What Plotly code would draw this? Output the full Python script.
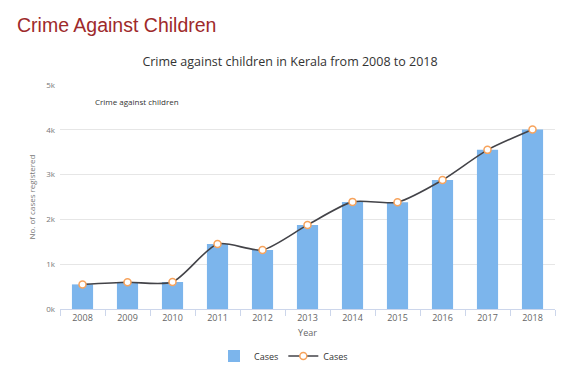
import plotly.graph_objects as go

years = [2008, 2009, 2010, 2011, 2012, 2013, 2014, 2015, 2016, 2017, 2018]
cases = [549, 596, 603, 1452, 1318, 1877, 2391, 2384, 2879, 3552, 4008]
y_ticks = [0, 1000, 2000, 3000, 4000, 5000]
y_tick_labels = ["0k", "1k", "2k", "3k", "4k", "5k"]

FONT = "Open Sans, DejaVu Sans, sans-serif"
L, R, T, B = 60, 12, 85, 71
W, H = 567, 380
PW, PH = W - L - R, H - T - B

fig = go.Figure()
fig.add_trace(go.Bar(
    x=years, y=cases, name="Cases", width=0.47,
    marker=dict(color="#7cb5ec", line=dict(width=0)),
))
fig.add_trace(go.Scatter(
    x=years, y=cases, name="Cases", mode="lines+markers",
    line=dict(color="#434348", width=1.6, shape="spline", smoothing=0.7),
    marker=dict(size=7, color="#ffffff", line=dict(color="#f7a35c", width=1.5)),
))

fig.update_layout(
    width=W, height=H,
    margin=dict(l=L, r=R, t=T, b=B, autoexpand=False),
    paper_bgcolor="white", plot_bgcolor="white",
    font=dict(family=FONT, color="#666666", size=9),
    showlegend=True,
    legend=dict(orientation="h", x=0.5, xanchor="center", xref="container",
                y=24/380, yref="container", yanchor="middle",
                font=dict(size=9, color="#333333"), itemwidth=30,
                tracegroupgap=0),
    xaxis=dict(
        range=[2007.5, 2018.5], tickmode="array", tickvals=years,
        ticktext=[str(y) for y in years], ticks="", showgrid=False,
        showline=True, linecolor="#ccd6eb", linewidth=1, automargin=False,
        tickfont=dict(size=9, color="#666666"),
        minor=dict(tickmode="linear", tick0=2007.5, dtick=1, ticks="outside",
                   ticklen=6, tickcolor="#ccd6eb", showgrid=False),
        title=dict(text="Year", font=dict(size=9, color="#666666"), standoff=6),
        zeroline=False,
    ),
    yaxis=dict(
        range=[0, 5000], tickmode="array", tickvals=y_ticks, ticktext=y_tick_labels,
        showgrid=True, gridcolor="#e6e6e6", gridwidth=1, zeroline=False,
        automargin=False,
        tickfont=dict(size=8, color="#777777"), ticks="", ticklabelstandoff=4,
        title=dict(text="No. of cases registered", font=dict(size=8, color="#777777"), standoff=9),
    ),
    title=dict(
        text="Crime against children in Kerala from 2008 to 2018",
        x=290/567, xanchor="center", xref="container",
        y=1 - 62/380, yanchor="middle", yref="container",
        font=dict(family=FONT, size=12.5, color="#333333"),
    ),
)

fig.add_annotation(text="Crime Against Children", xref="paper", yref="paper",
                   x=(15 - L)/PW, y=(H - 25 - B)/PH, xanchor="left", yanchor="middle",
                   showarrow=False,
                   font=dict(family="Liberation Sans, Arial, sans-serif", size=19.5, color="#9e2a2b"))
fig.add_annotation(text="Crime against children", xref="paper", yref="paper",
                   x=(93 - L)/PW, y=(H - 101 - B)/PH, xanchor="left", yanchor="middle",
                   showarrow=False, font=dict(size=8, color="#333333"))

fig.write_html("out.html", config={"displayModeBar": False},
               post_script="document.body.style.margin='0';")
